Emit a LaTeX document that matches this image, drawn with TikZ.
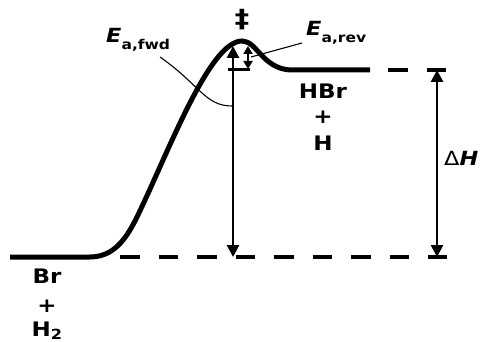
\documentclass[tikz,border=0pt]{standalone}
\usepackage{fontspec}
\setmainfont{DejaVu Sans}[FakeStretch=1.15]
\usepackage{tikz}
\usetikzlibrary{arrows.meta, positioning, calc}

\newcommand{\Ea}[1]{\textbf{\textit{E}}\raisebox{-7pt}{\fontsize{13.5}{13.5}\selectfont\textbf{a,#1}}}

\begin{document}
\begin{tikzpicture}[x=1pt, y=-1pt, >={Triangle[length=12pt, width=12pt]}]
        % Styles
        \tikzstyle{level} = [line width=5pt]
        \tikzstyle{refline} = [line width=4pt, dash pattern=on 19.5pt off 19pt]
        \tikzstyle{gap} = [line width=2.8pt]
        \tikzstyle{small} = [line width=2pt, {Triangle[length=8pt, width=9pt]}-{Triangle[length=8pt, width=9pt]}]
        \tikzstyle{leader} = [line width=1.1pt]
        \tikzstyle{species} = [font=\fontsize{20}{20}\selectfont\bfseries, inner sep=0pt]
        \tikzstyle{energy} = [font=\fontsize{19.5}{19.5}\selectfont, inner sep=0pt, anchor=base west]

        \useasboundingbox (0,0) rectangle (484,342);

        % --- Profile ---
        \coordinate (r_start) at (10,257);
        \coordinate (r_end) at (90,257);
        \coordinate (ts) at (242,41);
        \coordinate (p_start) at (290,70);
        \coordinate (p_end) at (370,70);

        \draw [level] (r_start) -- (r_end)
            .. controls (120,257) and (132,228) .. (145,200)
            .. controls (175,135) and (212,41) .. (ts)
            .. controls (257,41) and (262,68) .. (p_start) -- (p_end);

        % --- Reference levels ---
        \coordinate (base_l) at (120,257);
        \coordinate (base_r) at (447,257);
        \coordinate (prod_l) at (388,70);
        \coordinate (prod_r) at (447,70);
        \draw [refline] (base_l) -- (base_r);
        \draw [refline] (prod_l) -- (prod_r);

        % --- Energy gaps ---
        \coordinate (fwd_top) at (233,46);
        \coordinate (fwd_bot) at (233,257);
        \coordinate (rev_top) at (248,46);
        \coordinate (rev_bot) at (248,69);
        \coordinate (tick_l) at (228,70);
        \coordinate (tick_r) at (250,70);
        \coordinate (dh_top) at (437,70);
        \coordinate (dh_bot) at (437,257);

        \draw [gap, <->] (fwd_top) -- (fwd_bot);
        \draw [gap, <->] (dh_top) -- (dh_bot);
        \draw [line width=3pt] (tick_l) -- (tick_r);
        \draw [small] (rev_top) -- (rev_bot);

        % --- Labels ---
        \node [species, font=\fontsize{25}{25}\selectfont\bfseries] (dagger) at (242,20) {‡};
        \node [species, anchor=base] (br) at (47,283) {Br};
        \node [species] (plus_r) at (47,306) {+};
        \node [species, anchor=base] (h2) at (47,336) {H\textsubscript{2}};
        \node [species, anchor=base] (hbr) at (323,99) {HBr};
        \node [species] (plus_p) at (323,117) {+};
        \node [species, anchor=base] (h) at (323,150) {H};
        \node [energy] (dh) at (444,165) {Δ\textbf{\textit{H}}};
        \node [energy] (ea_fwd) at (106,43) {\Ea{fwd}};
        \node [energy] (ea_rev) at (306,36) {\Ea{rev}};

        % --- Leaders ---
        \coordinate (fwd_lead) at (160,57);
        \coordinate (fwd_mid) at (232,106);
        \coordinate (rev_lead) at (302,43);
        \coordinate (rev_mid) at (251,57);
        \draw [leader] (fwd_lead) .. controls (200,85) and (205,106) .. (fwd_mid);
        \draw [leader] (rev_lead) -- (rev_mid);

    \end{tikzpicture}
\end{document}
